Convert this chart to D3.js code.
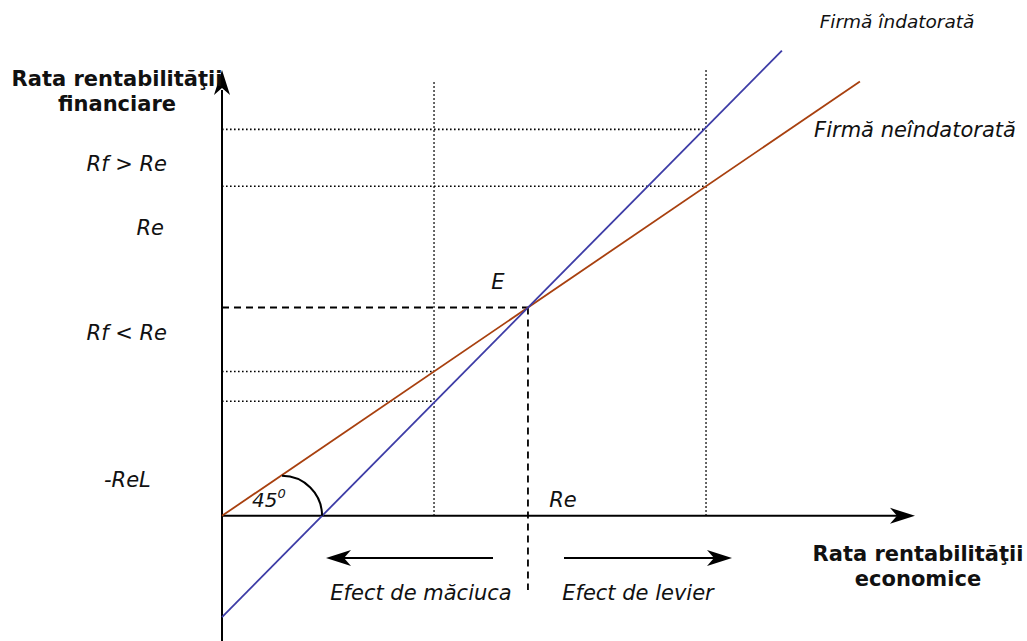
<!DOCTYPE html>
<html>
<head>
<meta charset="utf-8">
<script src="https://cdn.jsdelivr.net/npm/d3@7"></script>
<style>
  html, body { margin: 0; padding: 0; background: #ffffff; }
  svg { display: block; }
  text { font-family: "DejaVu Sans", Verdana, sans-serif; fill: #111; }
</style>
</head>
<body>
<svg id="chart" width="1027" height="641"></svg>
<script>
// Economic rate of return (Re) on x, financial rate of return (Rf) on y.
// Unlevered firm: Rf = Re (the 45° line). Levered firm: steeper line through E.
const unleveredLine = [[0, 0], [20.85, 20.85]];
const leveredLine = [[0, -4.86], [18.3, 22.33]];
const pointE = [10, 10];
const leveredZero = 3.27;          // Re where the levered firm's Rf crosses 0
const reGuides = [6.93, 15.82];    // low and high economic rates
const rfGuidesHigh = [18.55, 15.82]; // levered / unlevered Rf at high Re
const rfGuidesLow = [6.93, 5.5];     // unlevered / levered Rf at low Re
const sideLabels = [
  { text: "Rf > Re", rf: 16.9, anchor: "end", px: 167 },
  { text: "Re", rf: 13.83, anchor: "end", px: 164 },
  { text: "Rf < Re", rf: 8.79, anchor: "end", px: 167 },
  { text: "-ReL", rf: 1.73, anchor: "start", px: 104 }
];

const svg = d3.select("#chart");
const x = d3.scaleLinear().domain([0, 22.65]).range([222, 915]);
const y = d3.scaleLinear().domain([-5.96, 21.4]).range([640, 70]);

const blue = "#3d3ca6";
const brown = "#a8400f";

// Arrowhead with a concave back, tip at the origin pointing right
const arrowHead = "M0,0 L-25,-8 L-18,0 L-25,8 Z";
function drawArrow(x1, y1, x2, y2) {
  const a = Math.atan2(y2 - y1, x2 - x1);
  svg.append("line")
    .attr("x1", x1).attr("y1", y1)
    .attr("x2", x2 - 18 * Math.cos(a)).attr("y2", y2 - 18 * Math.sin(a))
    .attr("stroke", "#000").attr("stroke-width", 2);
  svg.append("path").attr("d", arrowHead)
    .attr("transform", `translate(${x2},${y2}) rotate(${a * 180 / Math.PI})`)
    .attr("fill", "#000");
}

function styled(sel, st) { Object.entries(st).forEach(([k, v]) => sel.attr(k, v)); return sel; }

// Dotted guides at the two economic rates and the matching financial rates
const dotted = { stroke: "#000", "stroke-width": 1.6, "stroke-dasharray": "1.6,2.4" };
styled(svg.append("line").attr("x1", x(reGuides[0])).attr("x2", x(reGuides[0]))
  .attr("y1", y(0)).attr("y2", 80), dotted);
styled(svg.append("line").attr("x1", x(reGuides[1])).attr("x2", x(reGuides[1]))
  .attr("y1", y(0)).attr("y2", 70), dotted);
rfGuidesHigh.forEach(v => styled(svg.append("line")
  .attr("x1", x(0)).attr("x2", x(reGuides[1])).attr("y1", y(v)).attr("y2", y(v)), dotted));
rfGuidesLow.forEach(v => styled(svg.append("line")
  .attr("x1", x(0)).attr("x2", x(reGuides[0])).attr("y1", y(v)).attr("y2", y(v)), dotted));

// Dashed guides to the break-even point E
const dashed = { stroke: "#000", "stroke-width": 1.8, "stroke-dasharray": "7,5" };
styled(svg.append("line").attr("x1", x(0)).attr("x2", x(pointE[0]))
  .attr("y1", y(pointE[1])).attr("y2", y(pointE[1])), dashed);
styled(svg.append("line").attr("x1", x(pointE[0])).attr("x2", x(pointE[0]))
  .attr("y1", y(pointE[1])).attr("y2", 590), dashed);

// Axes
svg.append("line").attr("x1", x(0)).attr("x2", x(0)).attr("y1", 641).attr("y2", 90)
  .attr("stroke", "#000").attr("stroke-width", 2);
svg.append("path").attr("d", arrowHead)
  .attr("transform", `translate(${x(0)},70) rotate(-90)`).attr("fill", "#000");
drawArrow(x(0), y(0), 915, y(0));

// Rate lines
const line = d3.line().x(d => x(d[0])).y(d => y(d[1]));
svg.append("path").datum(unleveredLine).attr("d", line)
  .attr("fill", "none").attr("stroke", brown).attr("stroke-width", 1.8);
svg.append("path").datum(leveredLine).attr("d", line)
  .attr("fill", "none").attr("stroke", blue).attr("stroke-width", 1.8);

// 45° angle arc
const arcR = x(leveredZero) - x(1.96);
svg.append("path")
  .attr("d", `M${x(1.96)},${y(0) - arcR} A${arcR},${arcR} 0 0 1 ${x(1.96) + arcR},${y(0)}`)
  .attr("fill", "none").attr("stroke", "#000").attr("stroke-width", 2);

// Effect arrows below the axis
drawArrow(493, 558, 326, 558);
drawArrow(564, 558, 732, 558);

// Labels
const it = (t, px, py, size, anchor) => svg.append("text").text(t)
  .attr("x", px).attr("y", py).attr("font-size", size).attr("font-style", "italic")
  .attr("text-anchor", anchor || "start");
const bold = (t, px, py, size) => svg.append("text").text(t)
  .attr("x", px).attr("y", py).attr("font-size", size).attr("font-weight", "bold")
  .attr("text-anchor", "middle");

bold("Rata rentabilităţii", 117, 86, 21);
bold("financiare", 117, 111, 21);
bold("Rata rentabilităţii", 918, 561, 21);
bold("economice", 918, 586, 21);

sideLabels.forEach(d => it(d.text, d.px, y(d.rf) + 7, 21, d.anchor));

it("E", 498, 289, 21, "middle");
it("Re", 563, 507, 21, "middle");
it("Efect de măciuca", 421, 600, 21, "middle");
it("Efect de levier", 638, 600, 21, "middle");
it("Firmă îndatorată", 897, 28, 18.5, "middle");
it("Firmă neîndatorată", 915, 137, 21, "middle");

const t45 = it("45", 252, 507, 20);
t45.append("tspan").text("0").attr("dy", -9).attr("font-size", 13);
</script>
</body>
</html>
